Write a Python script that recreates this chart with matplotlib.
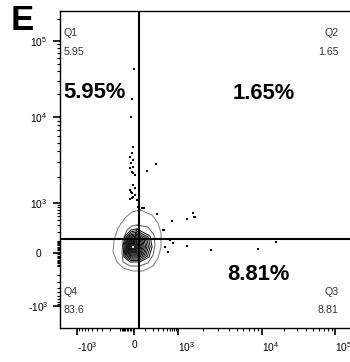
import numpy as np
import matplotlib
matplotlib.use("Agg")
import matplotlib.pyplot as plt
from matplotlib.ticker import FixedLocator, FixedFormatter

plt.rcParams['font.family'] = ['Liberation Sans', 'DejaVu Sans']
plt.rcParams['mathtext.fontset'] = 'custom'
plt.rcParams['mathtext.rm'] = 'Liberation Sans'
plt.rcParams['mathtext.it'] = 'Liberation Sans:italic'
plt.rcParams['mathtext.bf'] = 'Liberation Sans:bold'

# quadrant gate (data units)
gate_x = 45
gate_y = 119

# quadrant frequencies (%)
quad_names = ['Q1', 'Q2', 'Q3', 'Q4']
quad_freq = ['5.95', '1.65', '8.81', '83.6']

# contour outlines (data units)
outer_x = [54, 192, 291, 354, 354, 291, 206, 83, -7, -78, -128, -166, -156, -119, -63, -14]
outer_y = [692, 530, 340, 185, 48, -37, -102, -150, -150, -120, -68, 8, 109, 254, 450, 622]
mid_x = [27, 138, 221, 237, 206, 138, 54, -27, -78, -86, -78, -49, -14]
mid_y = [303, 270, 162, 64, -15, -76, -102, -102, -68, 8, 109, 225, 286]
core_x = [27, 164, 192, 151, 54, -27, -71, -78, -63, -21]
core_y = [239, 150, 48, -30, -68, -68, -30, 56, 150, 225]
core_center = (-7, 48)
core_levels = [1.0, 0.9, 0.81, 0.73, 0.66, 0.59, 0.53, 0.47, 0.41, 0.36,
               0.31, 0.26, 0.21, 0.17, 0.13, 0.09]

# single events outside the contours
dots_x = [0, -14, -21, -7, -14, -27, -7, -21, -7, -27, -14, -7, 9, 254, 127,
          -7, 9, -27, -14, -7, 27, -14, 36, 73, 272, 402, 618, 548, 1283, 1514,
          1598, 1283, 2480, 8960, 15560, -21, 9, -27, 94, 699, 1556, 428, 455, 742, 45]
dots_y = [42900, 17250, 10000, 4490, 3830, 3440, 3170, 2930, 2630, 2560, 2300, 2240, 2120, 2850, 2360,
          1625, 1500, 1420, 1310, 1175, 1085, 1145, 810, 770, 560, 225, 109, 8, 426, 590,
          475, 56, 23, 31, 90, 1347, 1242, 1116, 770, 381, 475, 225, 48, 81, 855]

# ticks
major_ticks = [-1000, 0, 1000, 10000, 100000]
major_labels = [r'-$10^{3}$', '0', r'$10^{3}$', r'$10^{4}$', r'$10^{5}$']
x_minor = (list(range(-900, 0, 100)) + list(range(-90, 0, 10)) + list(range(100, 1000, 100))
           + [k * 1000 for k in range(2, 10)] + [k * 10000 for k in range(2, 10)] + [200000])
y_minor = (list(range(-900, 0, 100)) + list(range(-90, 100, 10)) + list(range(100, 1000, 100))
           + [k * 1000 for k in range(2, 10)] + [k * 10000 for k in range(2, 10)] + [200000])

# biexponential-like display: arcsinh, pinned to the decade positions of the plot
LIN_W = 150.0
X_ANCHOR = [-2200, -1000, 0, 1000, 1e4, 1e5, 262144]
X_POS = [60, 77, 134, 178, 262, 335, 365]
Y_ANCHOR = [-3000, -1000, 0, 1000, 1e4, 1e5, 262144]
Y_POS = [34, 56, 109, 159, 245, 321, 351]


def make_biex(anchors, positions):
    u_a = np.arcsinh(np.asarray(anchors, float) / LIN_W)
    p_a = np.asarray(positions, float)

    def fwd(v):
        return np.interp(np.arcsinh(np.asarray(v, float) / LIN_W), u_a, p_a)

    def inv(p):
        return LIN_W * np.sinh(np.interp(np.asarray(p, float), p_a, u_a))
    return fwd, inv


xf, xi = make_biex(X_ANCHOR, X_POS)
yf, yi = make_biex(Y_ANCHOR, Y_POS)

W, H = 350, 362
fig = plt.figure(figsize=(W / 100, H / 100), dpi=100)
ax = fig.add_axes([60 / W, 34 / H, 305 / W, 317 / H])
ax.set_xscale('function', functions=(xf, xi))
ax.set_yscale('function', functions=(yf, yi))
ax.set_xlim(X_ANCHOR[0], X_ANCHOR[-1])
ax.set_ylim(Y_ANCHOR[0], Y_ANCHOR[-1])


def closed(a):
    return list(a) + [a[0]]


# contours
ax.plot(closed(outer_x), closed(outer_y), color='#8a8a8a', lw=0.8, solid_joinstyle='round')
ax.plot(closed(mid_x), closed(mid_y), color='#5a5a5a', lw=0.7, solid_joinstyle='round')
cx, cy = xf(core_center[0]), yf(core_center[1])
px, py = xf(core_x), yf(core_y)
for lev in core_levels:
    rx = xi(cx + (px - cx) * lev)
    ry = yi(cy + (py - cy) * lev)
    ax.plot(closed(rx), closed(ry), color='#111111', lw=0.75, solid_joinstyle='round')
ax.scatter([core_center[0]], [core_center[1]], s=2.5, c='white', marker='s', linewidths=0, zorder=4)

ax.scatter(dots_x, dots_y, s=1.4, c='black', marker='s', linewidths=0, zorder=3)

# quadrant gate
ax.axvline(gate_x, color='black', lw=1.5, zorder=5)
ax.axhline(gate_y, color='black', lw=1.5, zorder=5)

# axes styling
for s in ['top', 'left', 'bottom', 'right']:
    ax.spines[s].set_linewidth(1.0)
ax.xaxis.set_major_locator(FixedLocator(major_ticks))
ax.xaxis.set_major_formatter(FixedFormatter(major_labels))
ax.yaxis.set_major_locator(FixedLocator(major_ticks))
ax.yaxis.set_major_formatter(FixedFormatter(major_labels))
ax.xaxis.set_minor_locator(FixedLocator(x_minor))
ax.yaxis.set_minor_locator(FixedLocator(y_minor))
ax.xaxis.set_minor_formatter(FixedFormatter([]))
ax.yaxis.set_minor_formatter(FixedFormatter([]))
ax.tick_params(which='major', direction='out', length=5, width=1.2, labelsize=7.3)
ax.tick_params(which='minor', direction='out', length=2.5, width=0.8)
ax.tick_params(axis='x', which='major', pad=4)
ax.tick_params(axis='y', which='major', pad=10.5)
for val, lab in zip(major_ticks, ax.get_xticklabels()):
    lab.set_horizontalalignment('center' if val == 0 else 'left')
for lab in ax.get_yticklabels():
    lab.set_horizontalalignment('center')


def ftext(x, y, s, **kw):
    fig.text(x / W, 1 - y / H, s, va='baseline', **kw)


# panel letter
ftext(11, 30, 'E', fontsize=25, fontweight='bold')

# quadrant labels
small = dict(fontsize=7.7, color='#333333')
ftext(64, 36, quad_names[0], **small)
ftext(64, 55, quad_freq[0], **small)
ftext(339, 36, quad_names[1], ha='right', **small)
ftext(339, 55, quad_freq[1], ha='right', **small)
ftext(339, 295, quad_names[2], ha='right', **small)
ftext(338, 313, quad_freq[2], ha='right', **small)
ftext(64, 295, quad_names[3], **small)
ftext(64, 313, quad_freq[3], **small)

big = dict(fontsize=15.8, fontweight='bold')
ftext(63, 98, quad_freq[0] + '%', **big)
ftext(264, 99, quad_freq[1] + '%', ha='center', **big)
ftext(258, 280, quad_freq[2] + '%', ha='center', **big)

fig.savefig('out.png', dpi=100)
